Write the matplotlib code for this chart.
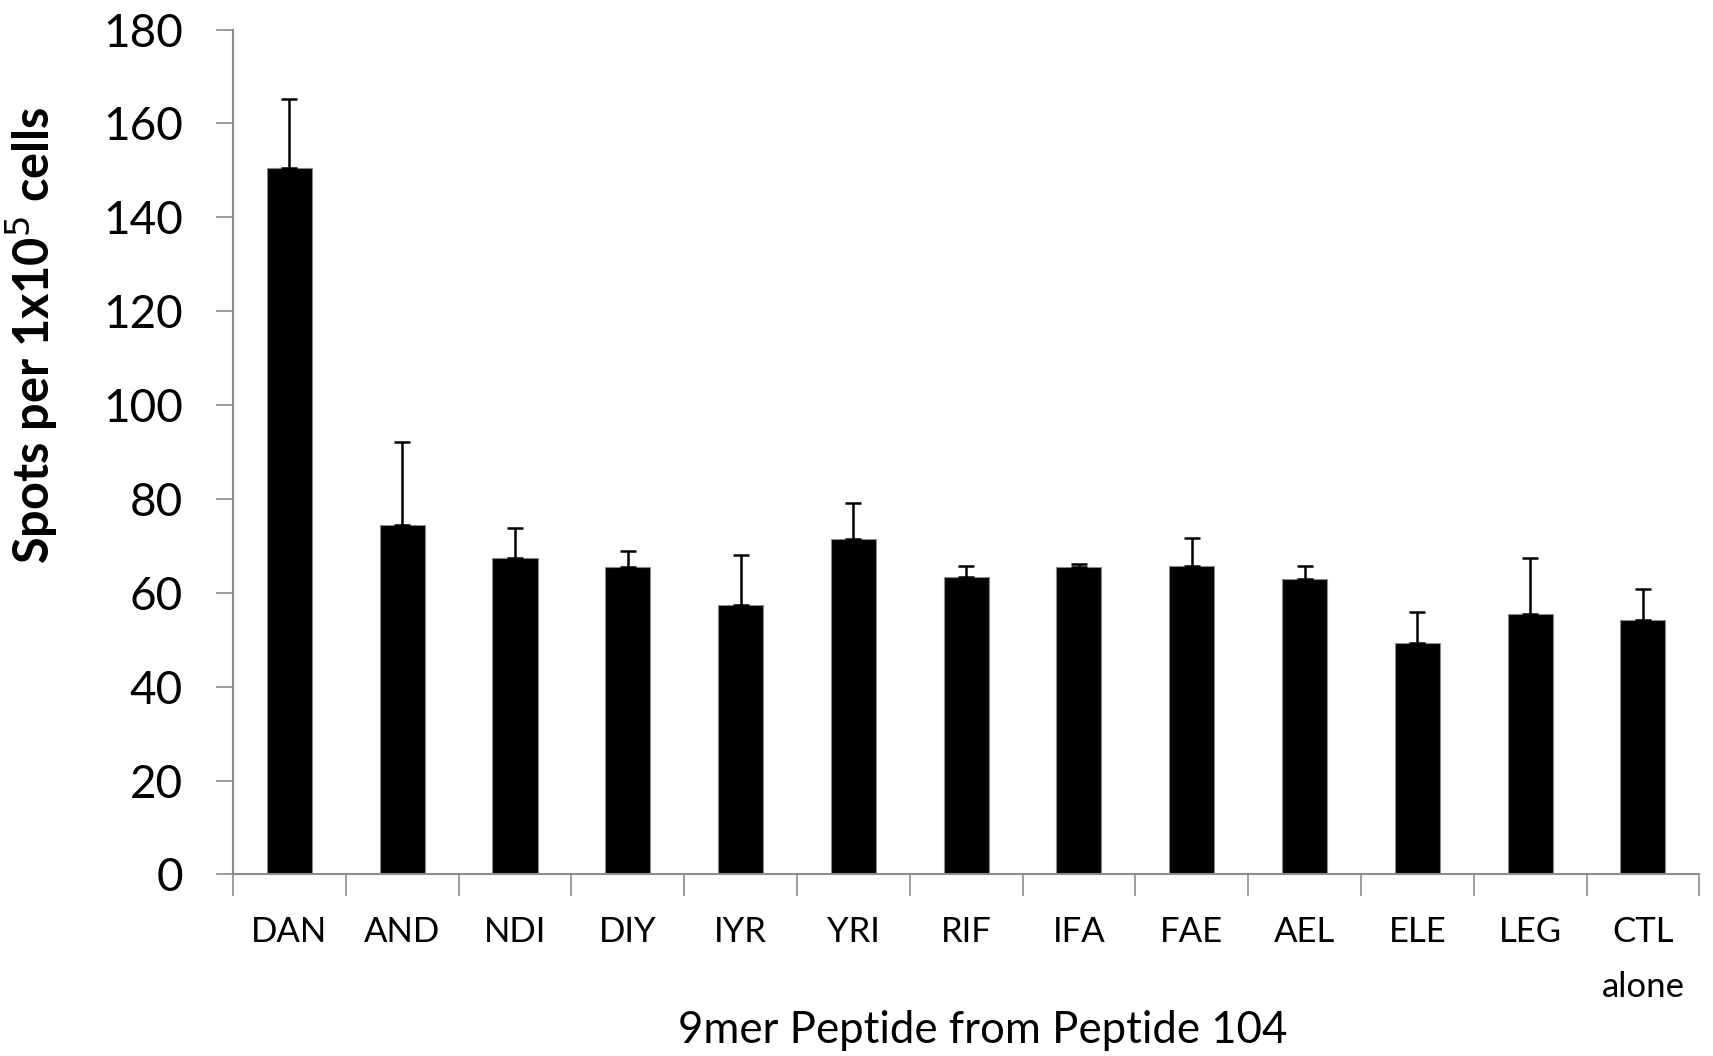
import numpy as np
import matplotlib
matplotlib.use("Agg")
import matplotlib.pyplot as plt

# valores
peptides = ['DAN', 'AND', 'NDI', 'DIY', 'IYR', 'YRI', 'RIF',
            'IFA', 'FAE', 'AEL', 'ELE', 'LEG', 'CTL\nalone']
spots = [150.4, 74.4, 67.5, 65.4, 57.4, 71.4, 63.4,
         65.4, 65.8, 62.9, 49.4, 55.4, 54.3]
err_top = [165.3, 92.1, 73.9, 69.0, 68.1, 79.2, 65.6,
           66.2, 71.6, 65.8, 55.8, 67.5, 60.8]
y_ticks = [0, 20, 40, 60, 80, 100, 120, 140, 160, 180]

plt.rcParams['font.family'] = ['Lato', 'DejaVu Sans']
axis_gray = '#8c8c8c'

fig = plt.figure(figsize=(17.13, 10.56), dpi=100)
ax = fig.add_axes([0.136, 0.172, 0.856, 0.80])

x = np.arange(len(peptides))
spots = np.array(spots)
yerr = np.array(err_top) - spots

ax.bar(x, spots, width=0.4, color='black', edgecolor=axis_gray,
       linewidth=0.8, zorder=2)
ax.errorbar(x, spots, yerr=[np.zeros_like(yerr), yerr], fmt='none',
            ecolor='black', elinewidth=1.8, capsize=6, capthick=1.8,
            zorder=3)

ax.set_xlim(-0.5, len(peptides) - 0.5)
ax.set_ylim(0, 180)
ax.set_yticks(y_ticks)
ax.tick_params(axis='y', labelsize=33, length=12, width=1.2,
               color=axis_gray, direction='out', pad=24)

# marcas del eje x entre categorias
ax.set_xticks(np.arange(len(peptides) + 1) - 0.5)
ax.set_xticklabels([])
ax.set_xticks(x, minor=True)
ax.set_xticklabels(peptides, minor=True, fontsize=25,
                   linespacing=1.9, va='top')
ax.tick_params(axis='x', which='major', length=16, width=1.2,
               color=axis_gray, direction='out')
ax.tick_params(axis='x', which='minor', length=0, pad=30)

for side in ['top', 'right']:
    ax.spines[side].set_visible(False)
for side in ['left', 'bottom']:
    ax.spines[side].set_color(axis_gray)
    ax.spines[side].set_linewidth(1.5)

ax.set_xlabel('9mer Peptide from Peptide 104', fontsize=31.5, va='center')
ax.xaxis.set_label_coords(0.511, -0.185)
ax.set_ylabel(r'Spots per 1x10$^{5}$ cells', fontsize=35,
              fontweight='bold')
ax.yaxis.set_label_coords(-0.118, 0.638)

fig.savefig('out.png', dpi=100)
